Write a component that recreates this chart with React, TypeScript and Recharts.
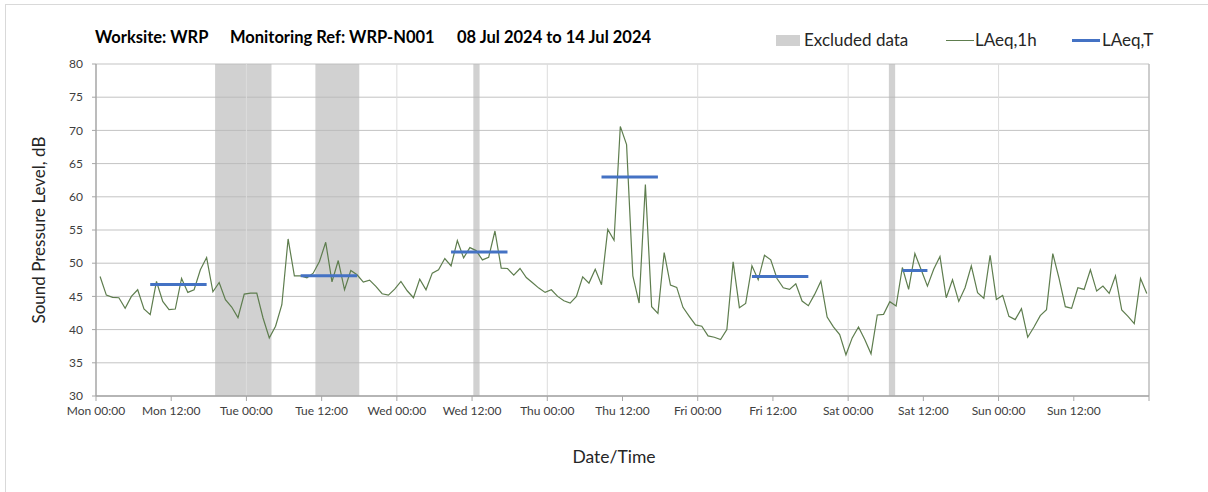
import React from 'react';
import { ComposedChart, Line, XAxis, YAxis, CartesianGrid, ReferenceArea, ReferenceLine } from 'recharts';

// hour ticks along the week, labels every 12 h (last tick unlabelled)
const tickHours = [0, 12, 24, 36, 48, 60, 72, 84, 96, 108, 120, 132, 144, 156, 168];
const tickLabels = [
  'Mon 00:00', 'Mon 12:00', 'Tue 00:00', 'Tue 12:00', 'Wed 00:00', 'Wed 12:00', 'Thu 00:00',
  'Thu 12:00', 'Fri 00:00', 'Fri 12:00', 'Sat 00:00', 'Sat 12:00', 'Sun 00:00', 'Sun 12:00', '',
];
const dayLines = [24, 48, 72, 96, 120, 144];
const yTicks = [30, 35, 40, 45, 50, 55, 60, 65, 70, 75, 80];

// LAeq,1h - one value per hour, Mon 00:00 onwards
const laeq1h = [
  48.0, 45.2, 44.85, 44.8, 43.2, 45.0, 46.0, 43.1, 42.25, 47.25, 44.25, 43.0,
  43.1, 47.7, 45.6, 46.0, 49.0, 50.85, 45.7, 47.1, 44.5, 43.4, 41.8, 45.35,
  45.5, 45.5, 41.75, 38.75, 40.5, 43.75, 53.65, 48.1, 48.1, 47.8, 48.5, 50.25,
  53.15, 47.2, 50.4, 46.0, 48.9, 48.25, 47.15, 47.45, 46.5, 45.4, 45.2, 46.1,
  47.25, 45.85, 44.8, 47.6, 46.0, 48.5, 49.0, 50.7, 49.6, 53.4, 50.8, 52.35,
  51.9, 50.5, 50.9, 54.85, 49.25, 49.2, 48.2, 49.2, 47.85, 47.05, 46.25, 45.6,
  46.0, 45.0, 44.35, 44.0, 45.0, 47.95, 47.0, 49.1, 46.75, 55.1, 53.45, 70.6,
  67.85, 48.1, 44.0, 61.85, 43.45, 42.45, 51.6, 46.7, 46.35, 43.35, 42.0, 40.7,
  40.5, 39.05, 38.85, 38.5, 40.0, 50.2, 43.3, 43.95, 49.6, 47.5, 51.2, 50.5,
  47.7, 46.3, 46.05, 46.9, 44.3, 43.6, 45.3, 47.3, 41.9, 40.4, 39.25, 36.2,
  38.75, 40.4, 38.5, 36.35, 42.2, 42.3, 44.2, 43.55, 49.35, 46.05, 51.45, 49.0,
  46.55, 49.1, 51.0, 44.8, 47.5, 44.25, 46.3, 49.6, 45.55, 44.7, 51.2, 44.55,
  45.15, 42.0, 41.5, 43.15, 38.85, 40.4, 42.1, 43.0, 51.45, 47.7, 43.45, 43.2,
  46.3, 46.05, 49.0, 45.8, 46.55, 45.45, 48.1, 42.95, 42.0, 40.9, 47.7, 45.45,
];

// LAeq,T daytime periods (hour index from / to)
const laeqTStart = [8, 32, 56, 80, 104, 128];
const laeqTEnd = [17, 41, 65, 89, 113, 132];
const laeqTValue = [46.8, 48.1, 51.7, 63.0, 48.0, 48.9];

// excluded data windows, in hours
const excludedStart = [19, 35, 60.2, 126.5];
const excludedEnd = [28, 42, 61.2, 127.5];

const OFFSET = 0.65;

const data = laeq1h.map((v, i) => {
  const k = laeqTStart.findIndex((s, j) => i >= s && i <= laeqTEnd[j]);
  return { t: i + OFFSET, l1h: v, lT: k >= 0 ? laeqTValue[k] : null };
});

const FONT = 'Lato, "Open Sans", sans-serif';
const tickStyle = { fontSize: 12, fill: '#404040', fontFamily: FONT };
const titleStyle: React.CSSProperties = { position: 'absolute', top: 26, fontSize: 16.5, fontWeight: 700, color: '#000', lineHeight: '22px', whiteSpace: 'pre' };
const legendText: React.CSSProperties = { position: 'absolute', top: 29, fontSize: 17, color: '#262626', lineHeight: '22px', whiteSpace: 'pre' };

const App: React.FC = () => {
  return (
    <div style={{ position: 'absolute', left: 0, top: 0, width: 1208, height: 492, fontFamily: FONT, background: '#fff' }}>
      <div style={{ position: 'absolute', left: 5, top: 4, width: 1210, height: 490, borderLeft: '1px solid #d9d9d9', borderTop: '1px solid #d9d9d9' }} />

      <div style={{ ...titleStyle, left: 95 }}>Worksite: WRP</div>
      <div style={{ ...titleStyle, left: 230 }}>Monitoring Ref: WRP-N001</div>
      <div style={{ ...titleStyle, left: 457 }}>08 Jul 2024 to 14 Jul 2024</div>

      {/* legend */}
      <div style={{ position: 'absolute', top: 35, left: 776, width: 24, height: 11, background: '#d0d0d0' }} />
      <div style={{ ...legendText, left: 804 }}>Excluded data</div>
      <div style={{ position: 'absolute', top: 40, left: 946, width: 28, height: 1, background: '#5e7d4e' }} />
      <div style={{ ...legendText, left: 975 }}>LAeq,1h</div>
      <div style={{ position: 'absolute', top: 39, left: 1072, width: 28, height: 3, background: '#4472c4' }} />
      <div style={{ ...legendText, left: 1102 }}>LAeq,T</div>

      <div style={{ position: 'absolute', left: 38, top: 230, transform: 'translate(-50%, -50%) rotate(-90deg)', fontSize: 17, color: '#262626', whiteSpace: 'nowrap' }}>
        Sound Pressure Level, dB
      </div>
      <div style={{ position: 'absolute', left: 614, top: 456, transform: 'translate(-50%, -50%)', fontSize: 17.5, color: '#262626', whiteSpace: 'nowrap' }}>
        Date/Time
      </div>

      <div style={{ position: 'absolute', left: 0, top: 0 }}>
        <ComposedChart width={1208} height={492} data={data} margin={{ top: 64, right: 59, left: 36, bottom: 66 }}>
          {excludedStart.map((s, i) => (
            <ReferenceArea key={`ex-${i}`} x1={s} x2={excludedEnd[i]} y1={30} y2={80} fill="#b8b8b8" fillOpacity={0.65} stroke="none" ifOverflow="hidden" />
          ))}
          <CartesianGrid vertical={false} stroke="#c3c3c3" strokeWidth={1} />
          {dayLines.map(d => (
            <ReferenceLine key={`d-${d}`} x={d} stroke="#dcdcdc" strokeWidth={1} />
          ))}
          <ReferenceLine x={168} stroke="#bdbdbd" strokeWidth={1.5} />
          <XAxis
            type="number"
            dataKey="t"
            domain={[0, 168]}
            ticks={tickHours}
            tickFormatter={(v: number) => tickLabels[tickHours.indexOf(v)] ?? ''}
            height={30}
            tick={tickStyle}
            tickSize={5}
            tickMargin={5}
            axisLine={{ stroke: '#a6a6a6', strokeWidth: 1.5 }}
            tickLine={{ stroke: '#a6a6a6' }}
            interval={0}
            allowDataOverflow
          />
          <YAxis
            type="number"
            domain={[30, 80]}
            ticks={yTicks}
            width={60}
            tick={tickStyle}
            tickSize={4}
            tickMargin={9}
            axisLine={{ stroke: '#a6a6a6', strokeWidth: 1.5 }}
            tickLine={{ stroke: '#a6a6a6' }}
            interval={0}
          />
          <Line type="linear" dataKey="l1h" stroke="#5e7d4e" strokeWidth={1.2} dot={false} activeDot={false} isAnimationActive={false} />
          <Line type="linear" dataKey="lT" stroke="#4472c4" strokeWidth={3} dot={false} activeDot={false} connectNulls={false} isAnimationActive={false} />
        </ComposedChart>
      </div>
    </div>
  );
};

export default App;
